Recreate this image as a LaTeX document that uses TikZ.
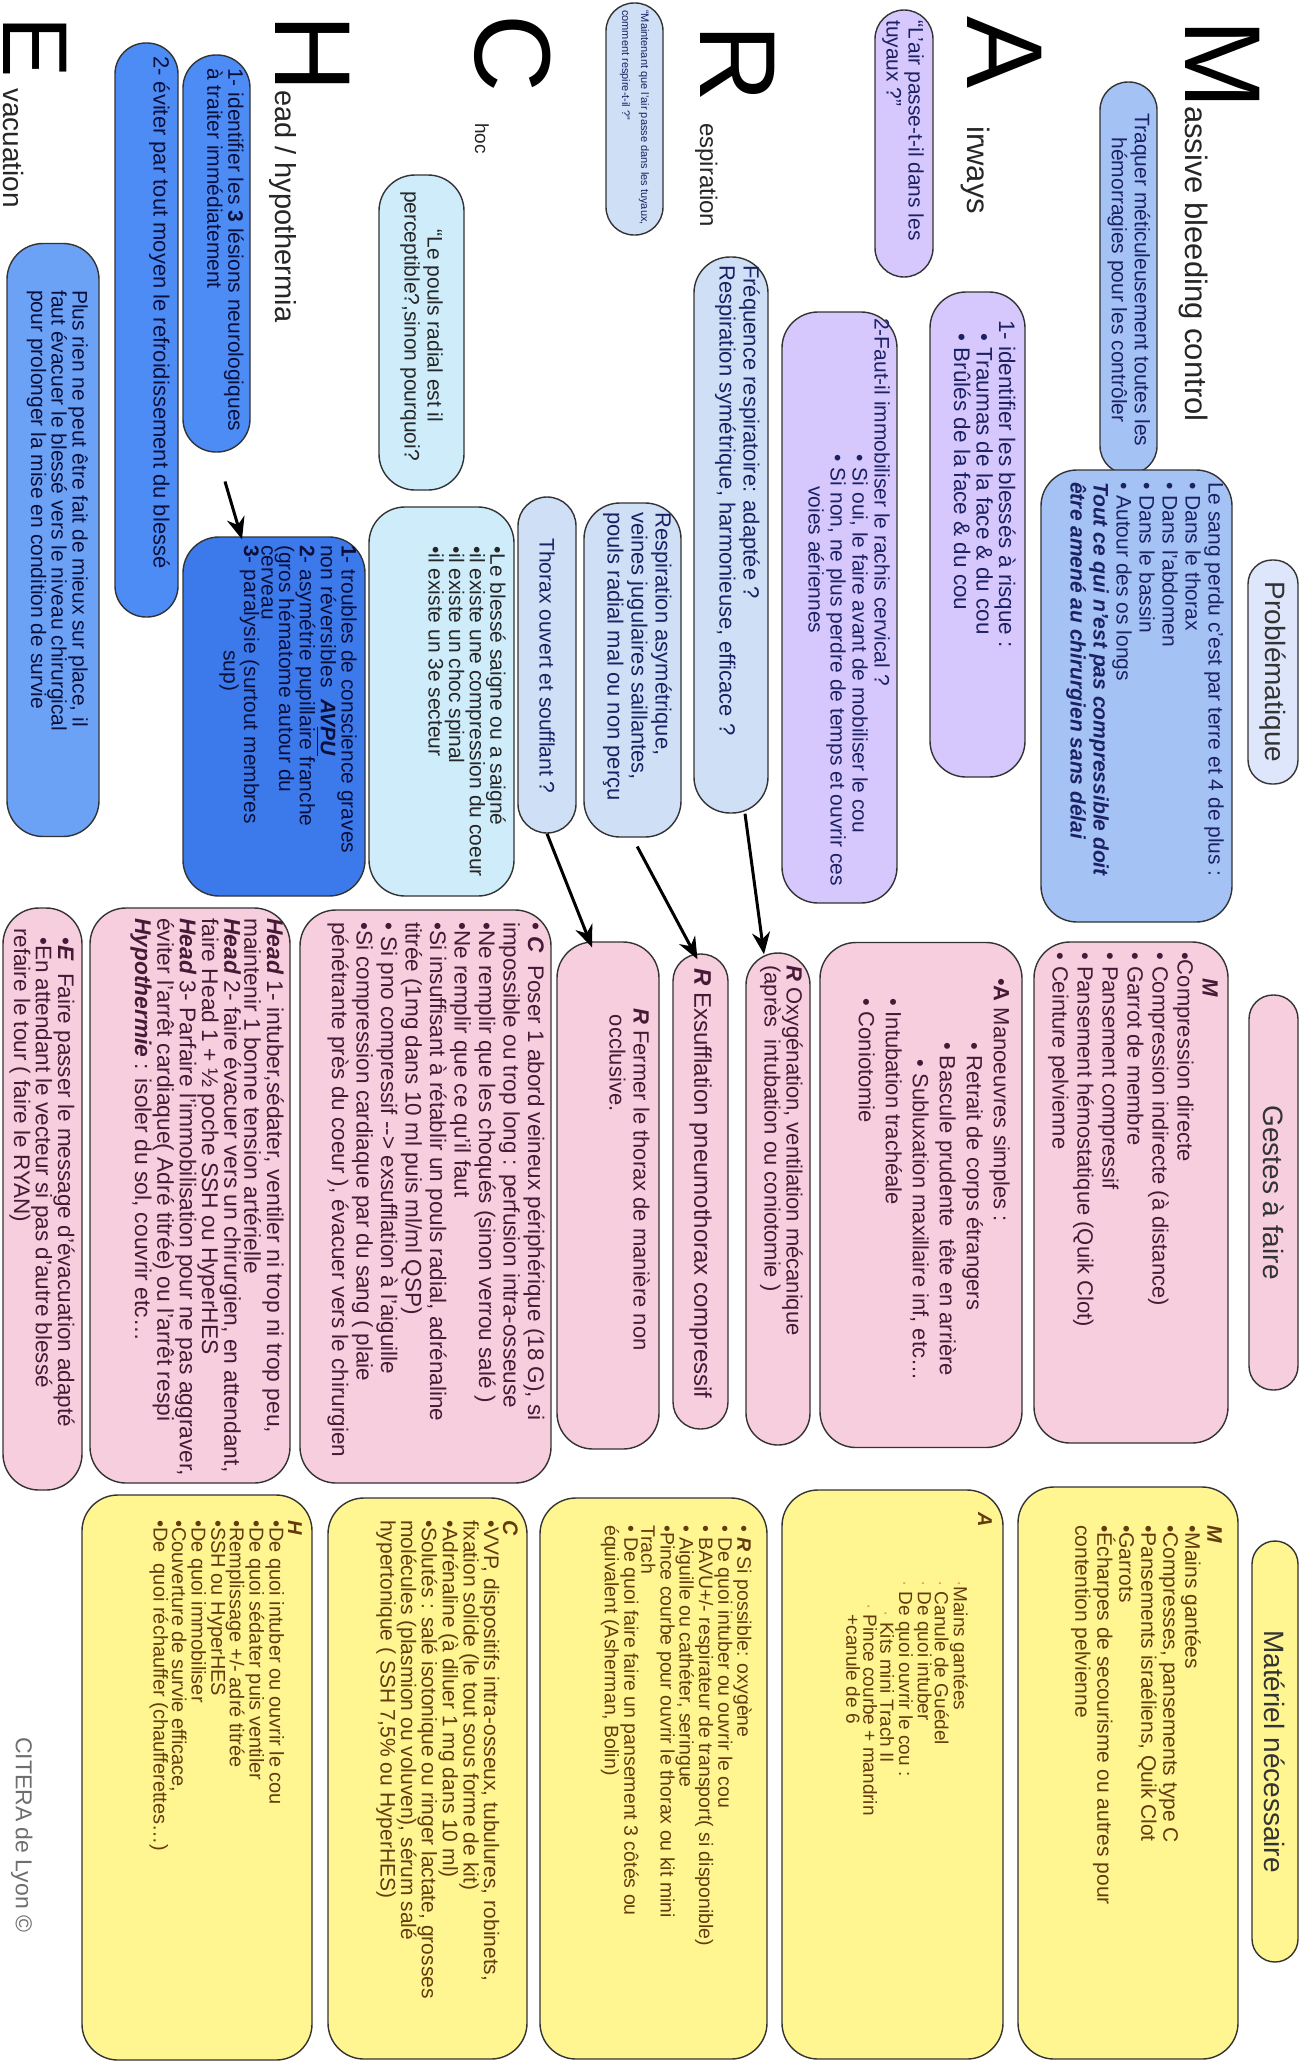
\documentclass[tikz,border=0pt]{standalone}
\usepackage{fontspec}
\setmainfont{Liberation Sans}
\usepackage{amsmath}
\usepackage{xcolor}
\usetikzlibrary{arrows.meta,calc}

\definecolor{cBlueM}{RGB}{164,194,244}
\definecolor{cPaleB}{RGB}{221,230,250}
\definecolor{cLilac}{RGB}{214,200,252}
\definecolor{cBlueR}{RGB}{207,223,246}
\definecolor{cCyan}{RGB}{206,236,250}
\definecolor{cBlueH}{RGB}{77,140,245}
\definecolor{cBlueHd}{RGB}{60,122,236}
\definecolor{cBlueE}{RGB}{108,162,246}
\definecolor{cPink}{RGB}{247,206,221}
\definecolor{cYellow}{RGB}{255,245,145}
\definecolor{tNavy}{RGB}{28,32,100}
\definecolor{tDeep}{RGB}{10,15,60}
\definecolor{tPlum}{RGB}{70,25,55}
\definecolor{tBrown}{RGB}{100,58,15}
\definecolor{cBullet}{RGB}{235,160,80}
\definecolor{cGrey}{RGB}{110,110,110}

\newcommand{\fsz}[2]{\fontsize{#1}{#2}\selectfont}
\newcommand{\boldit}[1]{\textbf{\textit{#1}}}
\newcommand{\obul}{{\color{cBullet}·}}

\tikzset{
  box/.style={draw=black!80, line width=1.4pt, rounded corners=#1, rotate=-90, inner sep=0pt},
  box/.default=36pt,
  txt/.style={rotate=-90, inner sep=0pt, align=left, anchor=north west},
  bigl/.style={rotate=-90, inner sep=0pt, anchor=base west, font=\fsz{108}{108}},
  ttl/.style={rotate=-90, inner sep=0pt, anchor=base west, text=black!85},
  flow/.style={line width=3pt, -{Stealth[length=22pt,width=18pt]}},
}

\begin{document}
\begin{tikzpicture}[x=1pt,y=1pt,yscale=-1,xscale=1]
\useasboundingbox (0,0) rectangle (1303,2066);
\fill[white] (0,0) rectangle (1303,2066);

% ---------------- M
\node[bigl] (letM) at (1185,19) {M};
\node[ttl, font=\fsz{31}{31}] (titM) at (1185,106) {assive bleeding control};
%Shape: Rounded Rect
\node[box=28pt, fill=cBlueM, minimum width=392pt, minimum height=57pt] (mTraq) at (1128.5,278) {};
% Text Node
\node[txt, anchor=center, align=center, font=\fsz{21}{23}, text=tNavy] (mTraqT) at (1129,280) {Traquer méticuleusement toutes les\\hémorragies pour les contrôler};
%Shape: Rounded Rect
\node[box=24pt, fill=cPaleB, minimum width=224pt, minimum height=50pt] (mProb) at (1273,672) {};
\node[txt, anchor=center, font=\fsz{28}{28}, text=black!80] (mProbT) at (1273,672) {Problématique};
%Shape: Rounded Rect
\node[box, fill=cBlueM, minimum width=452pt, minimum height=191pt] (mSang) at (1136.5,696) {};
\node[txt, font=\fsz{21}{23}, text=tNavy] (mSangT) at (1224,482) {Le sang perdu c'est par terre et 4 de plus :\\• Dans le thorax\\• Dans l'abdomen\\• Dans le bassin\\• Autour des os longs\\\boldit{Tout ce qui n'est pas compressible doit}\\\boldit{être amené au chirurgien sans délai}};

% ---------------- A
\node[bigl] (letA) at (967,16) {A};
\node[ttl, font=\fsz{31}{31}] (titA) at (967,126) {irways};
%Shape: Rounded Rect
\node[box=29pt, fill=cLilac, minimum width=267pt, minimum height=58pt] (aAir) at (904,143.5) {};
\node[txt, font=\fsz{21}{22}, text=tNavy] (aAirT) at (924,20) {“L'air passe-t-il dans les\\tuyaux ?”};
%Shape: Rounded Rect
\node[box, fill=cLilac, minimum width=485pt, minimum height=95pt] (aIdent) at (977.5,534.5) {};
\node[txt, font=\fsz{22.5}{22.5}, text=tNavy] (aIdentT) at (1016,320) {1- identifier les blessés à risque :\\\hspace*{0.6em}• Traumas de la face \& du cou\\\hspace*{0.6em}• Brûlés de la face \& du cou};
%Shape: Rounded Rect
\node[box, fill=cLilac, minimum width=591pt, minimum height=115pt] (aRach) at (839.5,607.5) {};
\node[txt, font=\fsz{21}{22}, text=tNavy] (aRachT) at (890,318) {2-Faut-il immobiliser le rachis cervical ?\\\hspace*{6.5em}• Si oui, le faire avant de mobiliser le cou\\\hspace*{6.5em}• Si non, ne plus perdre de temps et ouvrir ces\\\hspace*{8em}voies aériennes};

% ---------------- R
\node[bigl] (letR) at (700,24) {R};
\node[ttl, font=\fsz{24}{24}] (titR) at (700,123) {espiration};
%Shape: Rounded Rect
\node[box=28pt, fill=cBlueR, minimum width=232pt, minimum height=57pt] (rMain) at (634.5,119) {};
\node[txt, anchor=west, font=\fsz{11}{19}, text=tNavy] (rMainT) at (634.5,10) {“Maintenant que l'air passe dans les tuyaux,\\comment respire-t-il ?”};
%Shape: Rounded Rect
\node[box, fill=cBlueR, minimum width=556pt, minimum height=74pt] (rFreq) at (731,535) {};
\node[txt, font=\fsz{22}{24}, text=tNavy] (rFreqT) at (760,265) {Fréquence respiratoire: adaptée ?\\Respiration symétrique, harmonieuse, efficace ?};
%Shape: Rounded Rect
\node[box, fill=cBlueR, minimum width=334pt, minimum height=97pt] (rAsym) at (632.5,670) {};
\node[txt, font=\fsz{22}{24}, text=tNavy] (rAsymT) at (672,512) {Respiration asymétrique,\\veines jugulaires saillantes,\\pouls radial mal ou non perçu};
%Shape: Rounded Rect
\node[box=29pt, fill=cBlueR, minimum width=336pt, minimum height=58pt] (rThor) at (547,665) {};
\node[txt, anchor=center, font=\fsz{21}{21}, text=tNavy] (rThorT) at (547,666) {Thorax ouvert et soufflant ?};

% ---------------- C
\node[bigl] (letC) at (475,14) {C};
\node[ttl, font=\fsz{19}{19}] (titC) at (475,123) {hoc};
%Shape: Rounded Rect
\node[box, fill=cCyan, minimum width=315pt, minimum height=85pt] (cPouls) at (421.5,332.5) {};
\node[txt, anchor=center, align=center, font=\fsz{21}{23}, text=black!85] (cPoulsT) at (421.5,326) {“Le pouls radial est il\\perceptible?,sinon pourquoi?};
%Shape: Rounded Rect
\node[box, fill=cCyan, minimum width=389pt, minimum height=145pt] (cSaig) at (441.5,701.5) {};
\node[txt, font=\fsz{21}{19}, text=black!85] (cSaigT) at (506,546) {•Le blessé saigne ou a saigné\\•il existe une compression du coeur\\•il existe un choc spinal\\•il existe un 3e secteur};

% ---------------- H
\node[bigl] (letH) at (275,14) {H};
\node[ttl, font=\fsz{29}{29}] (titH) at (275,90) {ead / hypothermia};
%Shape: Rounded Rect
\node[box=33pt, fill=cBlueH, minimum width=397pt, minimum height=67pt] (hLes) at (216.5,253.5) {};
\node[txt, font=\fsz{21}{21}, text=tDeep] (hLesT) at (244,68) {1- identifier les \textbf{3} lésions neurologiques\\à traiter immédiatement};
%Shape: Rounded Rect
\node[box=31pt, fill=cBlueH, minimum width=574pt, minimum height=63pt] (hRefr) at (146.5,330) {};
\node[txt, font=\fsz{22}{22}, text=tDeep] (hRefrT) at (170,56) {2- éviter par tout moyen le refroidissement du blessé};
%Shape: Rounded Rect
\node[box, fill=cBlueHd, minimum width=359pt, minimum height=182pt] (hTrou) at (274,716.5) {};
\node[txt, font=\fsz{21}{17.5}, text=tDeep] (hTrouT) at (357,545) {\textbf{1}- troubles de conscience graves\\non réversibles \ \boldit{AV\underline{PU}}\\\textbf{2}- asymétrie pupillaire franche\\(gros hématome autour du\\cerveau\\\textbf{3}- paralysie (surtout membres\\\hspace*{5em}sup)};

% ---------------- E
\node[bigl, font=\fsz{92}{92}] (letE) at (3,16) {E};
\node[ttl, font=\fsz{28}{28}] (titE) at (3,88) {vacuation};
%Shape: Rounded Rect
\node[box, fill=cBlueE, minimum width=593pt, minimum height=92pt] (eMise) at (53,540) {};
\node[txt, font=\fsz{21}{18}, text=tDeep] (eMiseT) at (88,290) {Plus rien ne peut être fait de mieux sur place, il\\faut évacuer le blessé vers le niveau chirurgical\\pour prolonger la mise en condition de survie};

% ---------------- Gestes a faire
%Shape: Rounded Rect
\node[box=24pt, fill=cPink, minimum width=395pt, minimum height=49pt] (gTit) at (1273.5,1192.5) {};
\node[txt, anchor=center, font=\fsz{28}{28}, text=black!80] (gTitT) at (1273.5,1192.5) {Gestes à faire};
%Shape: Rounded Rect
\node[box, fill=cPink, minimum width=501pt, minimum height=194pt] (gM) at (1131,1192.5) {};
\node[txt, font=\fsz{22}{25}, text=tPlum] (gMT) at (1218,952) {\hspace*{1.2em}\boldit{M}\\•Compression directe\\• Compression indirecte (à distance)\\• Garrot de membre\\• Pansement compressif\\• Pansement hémostatique (Quik Clot)\\• Ceinture pelvienne};
%Shape: Rounded Rect
\node[box, fill=cPink, minimum width=505pt, minimum height=202pt] (gA) at (921,1195) {};
\node[txt, font=\fsz{22}{27}, text=tPlum] (gAT) at (1010,978) {•\textbf{A} Manoeuvres simples :\\\hspace*{2.9em}• Retrait de corps étrangers\\\hspace*{2.9em}• Bascule prudente \ tête en arrière\\\hspace*{3.7em}• Subluxation maxillaire inf, etc…\\\hspace*{0.9em}• Intubation trachéale\\\hspace*{0.9em}• Coniotomie};
%Shape: Rounded Rect
\node[box=32pt, fill=cPink, minimum width=492pt, minimum height=64pt] (gRox) at (778,1199) {};
\node[txt, font=\fsz{22}{22}, text=tPlum] (gRoxT) at (803,965) {\boldit{R} Oxygénation, ventilation mécanique\\(après \ intubation ou coniotomie )};
%Shape: Rounded Rect
\node[box=27pt, fill=cPink, minimum width=475pt, minimum height=55pt] (gRex) at (700.5,1191.5) {};
\node[txt, anchor=west, font=\fsz{24}{24}, text=tPlum] (gRexT) at (700.5,968) {\boldit{R} Exsufflation pneumothorax compressif};
%Shape: Rounded Rect
\node[box, fill=cPink, minimum width=507pt, minimum height=102pt] (gRfe) at (608,1195.5) {};
\node[txt, font=\fsz{22}{24}, text=tPlum] (gRfeT) at (650,1008) {\boldit{R} Fermer le thorax de manière non\\\hspace*{0.3em}occlusive.};
%Shape: Rounded Rect
\node[box, fill=cPink, minimum width=573pt, minimum height=251pt] (gC) at (425.5,1196.5) {};
\node[txt, font=\fsz{22.5}{24.5}, text=tPlum] (gCT) at (545,922) {• \boldit{C} \ Poser 1 abord veineux périphérique (18 G), si\\impossible ou trop long : perfusion intra-osseuse\\•Ne remplir que les choqués (sinon verrou salé )\\•Ne remplir que ce qu'il faut\\•Si insuffisant à rétablir un pouls radial, adrénaline\\titrée (1mg dans 10 ml puis ml/ml QSP)\\• Si pno compressif -{}-{}> exsufflation à l'aiguille\\•Si compression cardiaque par du sang ( plaie\\pénétrante près du coeur ), évacuer vers le chirurgien};
%Shape: Rounded Rect
\node[box, fill=cPink, minimum width=575pt, minimum height=200pt] (gH) at (190,1195.5) {};
\node[txt, font=\fsz{22.8}{20}, text=tPlum] (gHT) at (284,918) {\boldit{Head} 1- intuber,sédater, ventiler ni trop ni trop peu,\\maintenir 1 bonne tension artérielle\\\boldit{Head} 2- faire évacuer vers un chirurgien, en attendant,\\faire Head 1 + ½ poche SSH ou HyperHES\\\boldit{Head} 3- Parfaire l'immobilisation pour ne pas aggraver,\\éviter l'arrêt cardiaque( Adré titrée) ou l'arrêt respi\\\boldit{Hypothermie} : isoler du sol, couvrir etc…};
%Shape: Rounded Rect
\node[box, fill=cPink, minimum width=582pt, minimum height=79pt] (gE) at (42.5,1199) {};
\node[txt, font=\fsz{22.5}{18}, text=tPlum] (gET) at (75,928) {\hspace*{0.4em}•\boldit{E} \ Faire passer le message d'évacuation adapté\\\hspace*{0.4em}•En attendant le vecteur si pas d'autre blessé\\refaire le tour ( faire le RYAN)};

% ---------------- Materiel necessaire
%Shape: Rounded Rect
\node[box=23pt, fill=cYellow, minimum width=421pt, minimum height=46pt] (yTit) at (1275,1751.5) {};
\node[txt, anchor=center, font=\fsz{28}{28}, text=black!80] (yTitT) at (1275,1751.5) {Matériel nécessaire};
%Shape: Rounded Rect
\node[box, fill=cYellow, minimum width=572pt, minimum height=220pt] (yM) at (1128,1773) {};
\node[txt, font=\fsz{21}{22}, text=tBrown] (yMT) at (1222,1525) {\boldit{M}\\•Mains gantées\\•Compresses, pansements type C\\•Pansements israéliens, Quik Clot\\•Garrots\\•Écharpes de secourisme ou autres pour\\contention pelvienne};
%Shape: Rounded Rect
\node[box, fill=cYellow, minimum width=569pt, minimum height=221pt] (yA) at (892.5,1774.5) {};
\node[txt, font=\fsz{20}{20}, text=tBrown] (yAT) at (992,1512) {\boldit{A}};
\node[txt, font=\fsz{19}{17}, text=tBrown] (yAL) at (968,1580) {\obul Mains gantées\\\obul\ Canule de Guédel\\\obul\ De quoi intuber\\\obul\ De quoi ouvrir le cou :\\\hspace*{1.6em}\obul\ Kits mini Trach II\\\hspace*{1.2em}\obul\ Pince courbe + mandrin\\\hspace*{1.8em}+canule de 6};
%Shape: Rounded Rect
\node[box, fill=cYellow, minimum width=561pt, minimum height=227pt] (yR) at (653.5,1778.5) {};
\node[txt, font=\fsz{19.5}{17}, text=tBrown] (yRT) at (752,1525) {• \boldit{R} Si possible: oxygène\\• De quoi intuber ou ouvrir le cou\\• BAVU+/- respirateur de transport( si disponible)\\• Aiguille ou cathéter, seringue\\•Pince courbe pour ouvrir le thorax ou kit mini\\Trach\\• De quoi faire faire un pansement 3 côtés ou\\équivalent (Asherman, Bolin)};
%Shape: Rounded Rect
\node[box, fill=cYellow, minimum width=561pt, minimum height=199pt] (yC) at (427.5,1778.5) {};
\node[txt, font=\fsz{21}{19}, text=tBrown] (yCT) at (518,1520) {\boldit{C}\\•VVP, dispositifs intra-osseux, tubulures, robinets,\\fixation solide (le tout sous forme de kit)\\•Adrénaline (à diluer 1 mg dans 10 ml)\\•Solutés : salé isotonique ou ringer lactate, grosses\\molécules (plasmion ou voluven), sérum salé\\hypertonique ( SSH 7,5\% ou HyperHES)};
%Shape: Rounded Rect
\node[box, fill=cYellow, minimum width=565pt, minimum height=230pt] (yH) at (197,1777.5) {};
\node[txt, font=\fsz{20}{18.5}, text=tBrown] (yHT) at (302,1520) {\boldit{H}\\•De quoi intuber ou ouvrir le cou\\•De quoi sédater puis ventiler\\•Remplissage +/- adré titrée\\•SSH ou HyperHES\\•De quoi immobiliser\\•Couverture de survie efficace,\\•De \ quoi réchauffer (chaufferettes…)};

% Text Node
\node[ttl, font=\fsz{23}{23}, text=cGrey] (credit) at (16,1737) {CITERA de Lyon ©};

% ---------------- arrows
\draw[flow] ($(rFreq.east)+(14,0)$) -- ($(gRox.west)+(-14,2)$);
\draw[flow, shorten <=10pt] (rAsym.east) -- ($(gRex.west)+(-3,6)$);
\draw[flow] (rThor.east) -- ($(gRfe.west)+(-16,6)$);
\draw[flow, shorten <=30pt] (hLes.east) -- ($(hTrou.west)+(-32,3)$);

\end{tikzpicture}
\end{document}
